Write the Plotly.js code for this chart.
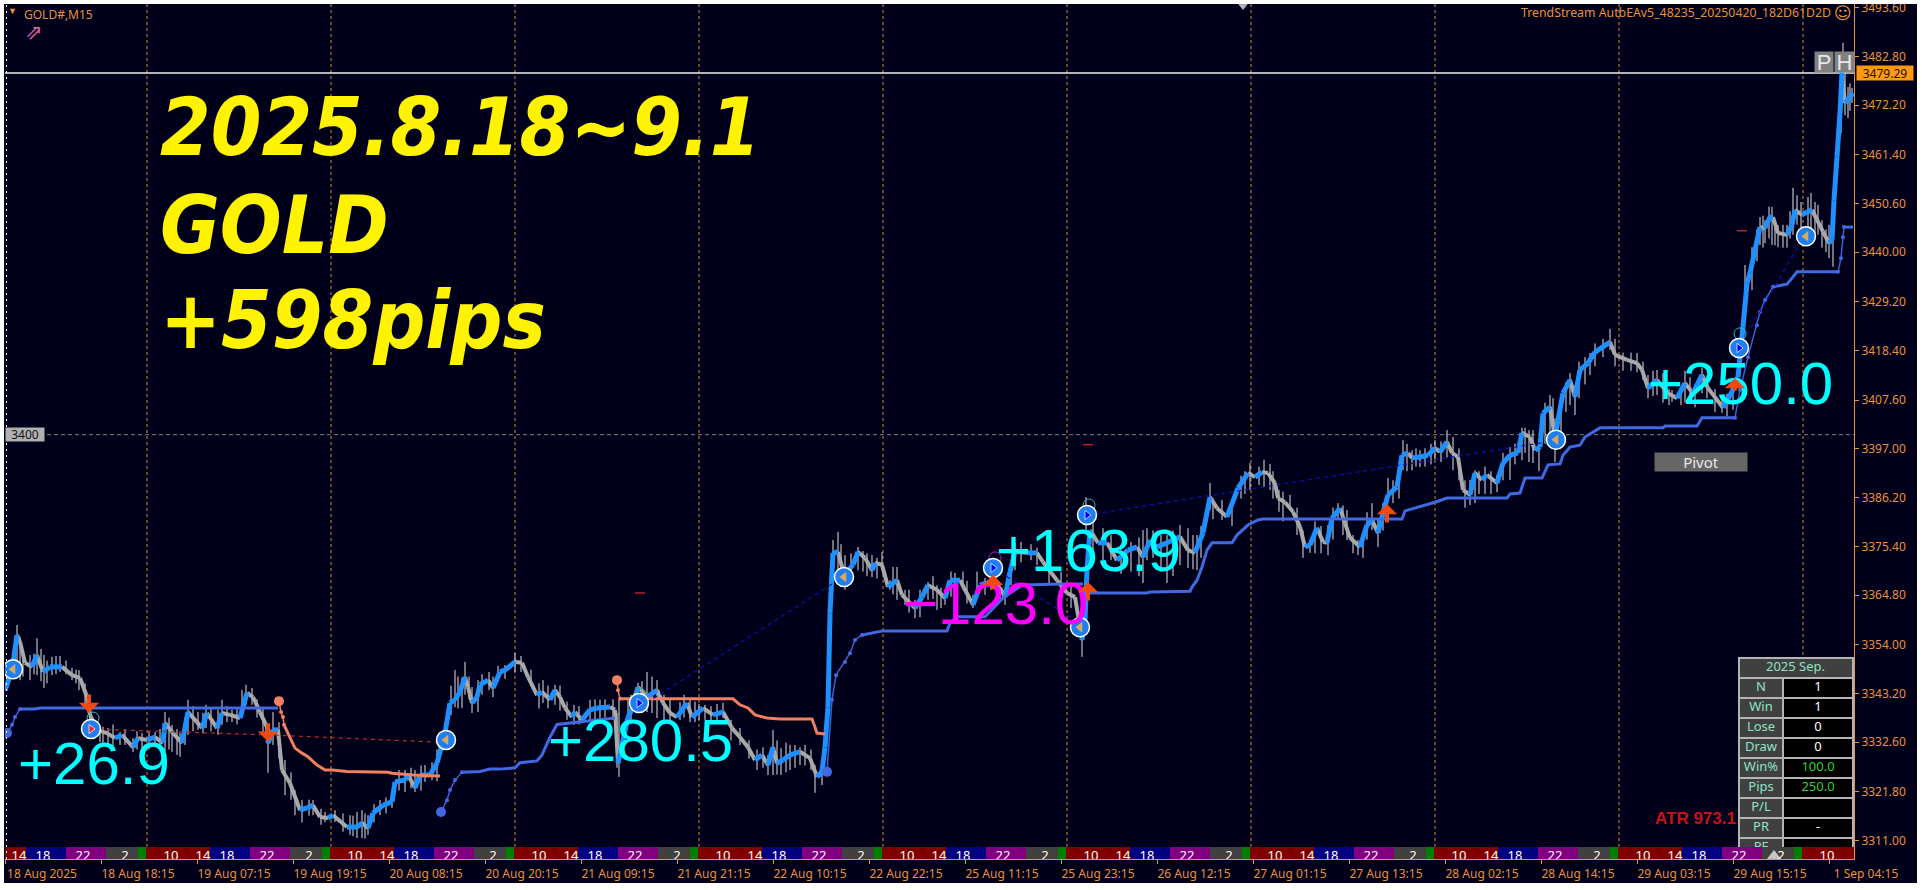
<!DOCTYPE html>
<html><head><meta charset="utf-8">
<script src="https://cdn.plot.ly/plotly-3.0.1.min.js"></script>
<style>html,body{margin:0;padding:0;background:#fff;overflow:hidden}#c{position:absolute;left:4px;top:4px;width:1913px;height:879px}</style>
</head><body><div id="c"></div>
<script>
// ---------- price path (bar number, close) ----------
const priceBar=[0,3.5,6,7.5,10,13.5,16,19,22.5,28.5,33.5,37.5,41,42.5,46,51,55,58.5,64,66.5,71,75,79,80,84,88.5,91.5,96,98.5,101,106,108.5,112.5,117.5,121,124,127.5,131,131.5,134,136.5,138.5,142.5,147.5,151,154,157.5,161.5,164,171,176,178.5,181.5,184,189,193.5,195,200,201.5,205,207.5,212.5,216,220,222.5,225,227.5,230,231.5,233.5,236,237.5,241.5,244,247.5,250,255,258.5,261.5,266,268.5,272.5,275,277.5,280,283.5,285,288.5,292.5,296,302.5,305,306.5,311.5,314,316.5,321,326,329,332.5,336,341,343.5,349,354,359,363.5,367.5,371.5,375,378.5,381.5,384,386,389,392.5,397.5,402.5,406,408.5,410,411.5,412.5,414,416.5,418.5,421,424,426.5,430,433.5,435,438.5,441.5,446,448.5,455,458.5,461.5,466,470,472.5,477.5,484,487.5,492.5,497.5,500,502.5,505,511,516,519,526,531,535,537.5,538.5,540,541,542.5,546.5,551,556,561.5,566,569,572.5,576,581,587.5,591.5,595,599,602.5,606,611,616.5,621.5,625,628.5,631.5,635,636.5,640,644,647.5,650,652.5,656,659,661,663.5,667.5,670,672.5,677.5,681,683.5,686.5,689,691.5,696,698.5,701.5,703.5,707.5,711.5,715,717.5,721,723.5,726.5,729,732.5,735,738.5,741,746,749,752.5,756.5,758.5,762.5,765,767.5,769,772.5,775,776.5,779,782.5,785,787.5,791.5,795,802.5,805,811,816,818.5,821.5,826,831.5,836,840,844,848.5,851.5,859,863.5,866.5,869,871,872.5,875,877.5,880,882.5,884,886.5,891,893.5,895,898.5,901,903.5,906,909,912,913.5,914.5,916,917.5,918.5,920,922.5,924];
const priceClose=[3344,3348.4,3356.1,3354.6,3350,3349.1,3351.7,3348,3349.1,3349.1,3347.3,3346.7,3342.5,3338.6,3335.3,3334.6,3333.5,3334.2,3331.5,3333.5,3333.1,3333.7,3332.4,3336.8,3334.6,3332.4,3339.2,3337,3335.7,3339,3335.7,3339,3338.6,3337.9,3343.4,3342.5,3339.2,3335.9,3332.4,3335.3,3335.3,3326.5,3323.6,3317.7,3318.2,3318.8,3316.2,3316,3316.6,3314,3314,3314.9,3313.8,3317.1,3318.8,3319.5,3323.9,3324.3,3325.4,3322.6,3325.4,3325.4,3328,3334.6,3341.2,3341.9,3343.6,3346.9,3344.7,3341.2,3342.5,3345.2,3346.2,3344.5,3348,3348.4,3350.2,3350,3346.9,3342.9,3343.6,3341.9,3344,3342.5,3340.1,3338.1,3339.2,3337.5,3339.7,3340.1,3340.3,3339.7,3328,3338.1,3340.3,3344.7,3342.5,3344,3341.2,3339,3338.1,3341.2,3338.1,3340.1,3338.6,3339.2,3335.7,3333.7,3331.5,3328.7,3329.8,3327.6,3331.5,3328,3328.7,3329.8,3330.5,3329.1,3325,3326.1,3331.5,3340.3,3360.9,3374.1,3374.3,3371,3369.9,3371.5,3374.3,3373,3370.3,3371.9,3371.5,3366.6,3368.1,3364.9,3362,3364.4,3367,3366,3364.2,3368.1,3368.1,3362.7,3367,3367.7,3366.4,3364.4,3369.9,3374.3,3374.1,3374.1,3372.1,3368.1,3365.3,3364.4,3357.8,3355,3359.4,3370.3,3379.1,3376.3,3376.3,3372.5,3374.7,3375.4,3373.2,3376.9,3375.4,3376.3,3377.6,3374.7,3374.1,3378.5,3386.3,3383.9,3382,3388.3,3391.6,3390.7,3391.8,3391.6,3389.4,3386.1,3385.2,3383.1,3379.8,3375.4,3375.8,3379.6,3376.5,3376.3,3381.7,3383.9,3380.6,3377.4,3375.4,3380.2,3381.3,3378.5,3382.8,3386.8,3388.5,3395.5,3396,3394.9,3395.1,3395.5,3397.1,3396.2,3398.4,3396,3395.1,3387.9,3386.8,3391.6,3390.1,3391.2,3389.4,3393.8,3395.5,3396,3400.4,3399.5,3396.6,3397.3,3404.7,3406.1,3399.3,3403.2,3409.1,3412,3408.3,3414.2,3415.7,3418.1,3420.3,3417.5,3416.4,3415.7,3414.2,3410.2,3412,3409.1,3408,3411.3,3409.1,3413.1,3410.2,3405.9,3409.4,3412.6,3423.6,3433.2,3435.4,3440.5,3445.5,3445.3,3447.7,3447.7,3444.2,3443.8,3446,3449.3,3448.2,3448.8,3449.3,3447.1,3444.5,3442,3442.7,3451.4,3460.9,3470.5,3479.3,3472.7,3474,3474.9];
// ---------- wicks (bar number, high, low) ----------
const wickBar=[6,7.5,12.5,16,19.5,23.5,27.5,33.5,37,42.5,47.5,51.5,57.5,64,68.5,75,80,83.5,87.5,91.5,96.5,100.5,106.5,108.5,113.5,120.5,123.5,131.5,134,140,145,148.5,154,160,165,172.5,176,178.5,181.5,187.5,193.5,200,205,210,213.5,225,228.5,230,233.5,236.5,242,246.5,255,269,275,284.5,292.5,297.5,307,311.5,316.5,321,326,329.5,337.5,342.5,350,359,367.5,381.5,384,388,392.5,397.5,405,408.5,414,416.5,420,426.5,433.5,438.5,442.5,446,450,455,461.5,466,470,475,484,490,497.5,500,505,516,538.5,540.5,549,569,571,581,587.5,591.5,596,602.5,608.5,622.5,632.5,637,642.5,652.5,661.5,666.5,671,676.5,683.5,686.5,691.5,699,703.5,707.5,715,724,732.5,735,746,752.5,758.5,764,772.5,775,782.5,785,792.5,802.5,816,821.5,826,833.5,842.5,848.5,858.5,870,873.5,877.5,880,883.5,886.5,894,896,901.5,906.5,912,914,919,921.5,923.5];
const wickHigh=[3358.3,3355.7,3351.7,3355.4,3351.7,3351.3,3351.5,3348.9,3348.4,3343,3335.7,3335.7,3334.8,3333.5,3334.6,3334.8,3339.2,3336.4,3334.6,3341.9,3339.2,3340.8,3339.7,3341.9,3339.7,3345.2,3344.5,3336.4,3339.2,3328.7,3322.1,3319.9,3319.9,3317.3,3317.7,3316.6,3317.3,3317.7,3316.6,3319.9,3321,3326.5,3326.5,3327.6,3328.2,3348.4,3346.7,3350.2,3344.7,3346.2,3348,3349.3,3352.1,3346.2,3345.2,3340.8,3341.9,3341.9,3341.9,3342.3,3345.6,3348,3346.2,3343,3341.4,3341.9,3340.8,3341.2,3335.7,3329.8,3335.3,3331.3,3332,3331.5,3327.6,3327.2,3376.9,3378.7,3373.6,3375.4,3373.6,3374.3,3368.1,3371,3366,3363.8,3367.7,3367,3366,3369.7,3364.9,3368.6,3367,3366,3376.3,3375.2,3363.8,3386.3,3379.5,3379.1,3379.5,3378,3380.2,3379.5,3378,3389.4,3385.7,3393.8,3393.6,3387.9,3386.8,3376.9,3380.2,3385,3383.5,3376.9,3385,3381.3,3390.5,3398.8,3396.6,3396.6,3398.8,3399.5,3390.1,3392.2,3391.2,3397.3,3401.5,3401,3408.7,3403.6,3413.5,3410.9,3417.9,3423.2,3417.9,3413.1,3414.2,3409.8,3412.6,3414.6,3407.6,3437.2,3441.1,3447.7,3447,3449.9,3446,3454.1,3452.5,3452.1,3450.4,3446,3442.7,3485.9,3476.2,3476];
const wickLow=[3348,3346.2,3346.2,3347.3,3344.5,3347.3,3348,3346.2,3344,3336.4,3332.6,3332,3332,3330.5,3331.3,3332,3330.5,3330.5,3329.4,3334.2,3335.3,3335.7,3334.2,3336.4,3337,3340.8,3340.8,3325.9,3332,3321,3316.6,3315,3316.6,3315.1,3315.1,3312.3,3311.6,3311.6,3312.3,3316.6,3318.2,3321.7,3321.7,3323.9,3324.3,3340.3,3340.1,3343,3339,3339.2,3344,3345.8,3348,3341.2,3340.8,3336.4,3337,3337.9,3325,3337.9,3339,3339.2,3337.9,3337,3337.5,3337,3337.5,3337.9,3332,3325.4,3325.4,3325.4,3326.5,3327.6,3321.5,3323.2,3369.3,3368.1,3366,3370.3,3368.8,3370.3,3366,3363.8,3362.7,3359.8,3363.8,3361.6,3362.7,3364.9,3362,3364.9,3363.8,3362.7,3370.3,3371.4,3351.3,3379.1,3372.5,3367.5,3372.5,3367.5,3371.4,3370.8,3370.3,3383.5,3381.3,3387.9,3387.9,3383.1,3383.5,3374.1,3373.6,3381.3,3376.9,3373.6,3379.1,3375.4,3385.7,3392.2,3392.2,3392.9,3394.4,3392.2,3384.6,3385,3387.4,3390.1,3394.4,3393.8,3398.8,3394,3406.5,3404.3,3413.1,3418.6,3413.7,3408,3408.7,3407.2,3407.6,3409.1,3404.8,3429.5,3431.7,3441.6,3442,3441.6,3441.1,3443.8,3446,3444.9,3443.8,3438.7,3436.8,3478.9,3469.4,3472.7];
const moreWickBar=[9,14.5,18,21,25.5,30.5,35.5,40,49,54,60,66,72,77.5,82,86,90,94,99,103,111,116,118.5,126,129,137,143,152,158,169,174,180,184.5,190.5,197,203,208,216,223,226.5,232,238.5,244,250,258,263,267,271.5,277.5,281,287,295,300,304,306,313,318.5,323.5,332.5,339.5,345,347,353,356,363,372,376,379,386,390.5,395,400,403,418,423,429,431,436,444,452,457.5,464,468,473,479,481,486,493,503,508,513,522,528,533,544,553,558,563,567,574,578,584,594,598,604,613.5,618,620,627,629.5,634,639,646,649,655,658,664,669,674,679,681,689,694,697,701,705.5,710,713,718,721,727,730,737,740,743,749,755,760,762,767,770,774,778,780.5,787,790,795,799,805,809,813,819,824,829,832,838,840,845,851,855,861,864,876,879,882,885,889,891,892.5,898,903,905,908.5,910.5,918,920,922.5];
const moreWickHigh=[3352.5,3352,3353,3350.5,3351.5,3350.5,3348.5,3345.5,3336,3336.5,3335.5,3335,3335,3335.5,3338,3335.5,3338,3340.5,3339,3340,3340.5,3340,3344,3342,3340,3337,3326,3320,3318,3317,3316.5,3317,3319,3320.5,3326.5,3327,3327.5,3331,3345,3347,3347,3347.5,3347,3349.5,3351.5,3348.5,3345.5,3345,3345,3341.5,3340.5,3342,3342,3342,3339,3343,3346,3347,3342,3343,3341.5,3341,3340.5,3341,3337.5,3333,3331,3331.5,3333,3332.5,3332,3332,3331,3376,3374,3374.5,3374,3373,3371,3366,3366,3369,3366.5,3370,3370,3368,3370,3369.5,3372,3376.5,3376,3373,3370,3367,3381,3378,3375,3376.5,3377.5,3379,3378,3379,3378,3380,3386,3385,3391,3392,3393,3394.5,3392,3387.5,3384,3379,3381,3380,3384,3384.5,3378,3378,3383,3385,3390,3392,3398,3397,3397,3398,3398.5,3401,3397,3390,3392,3393,3392,3396,3398,3401.5,3401,3399,3407,3408,3405,3411.5,3416,3417,3420,3421,3421,3418,3418,3416,3414,3413.5,3410,3410.5,3414,3411,3413,3410,3409,3411,3445,3448,3450,3447,3446,3446,3449,3451,3453,3451,3447,3445,3474,3480,3477];
const moreWickLow=[3347,3347.5,3346,3345.5,3347.5,3347.5,3345.5,3340.5,3332.5,3331.5,3332,3331,3331,3331,3331,3329.8,3332,3335,3334.5,3335,3337,3336.5,3338,3338,3334,3329,3320,3316.5,3314.5,3313,3312,3311.5,3315,3317,3322,3322.5,3322,3324,3338.5,3340,3342,3343,3342.5,3346.5,3348,3345,3340,3340,3339.5,3337.5,3336.5,3337.5,3338,3337.5,3327,3337.5,3339.5,3339,3337,3338,3337,3337.5,3337,3337.5,3333,3329,3326.5,3327,3325.5,3326,3327,3327.5,3326.5,3367.5,3368,3370,3369,3368.5,3365,3361,3360,3364,3362,3364.5,3366,3363,3364,3366,3367,3372,3372.5,3367,3364,3362,3374,3372.5,3369.5,3370,3369,3373,3370,3369,3370.5,3373,3381.5,3380,3386,3387,3389,3388.5,3386,3381,3378,3373,3374,3374,3377,3378,3374,3373,3377,3379,3385,3386,3392,3393,3393,3393.5,3394,3395,3390,3384,3387,3387,3387,3390,3393.5,3396,3394,3392,3398,3400,3398,3405,3408,3411,3415,3417,3415,3414,3414,3412,3408.5,3407,3406.5,3406.5,3407,3406,3408,3405,3404,3405.5,3438,3441,3443,3441.5,3441,3441,3443,3445,3445,3444,3441,3440,3466,3470,3471];
// ---------- trailing stop lines (flat thick, steep thin dotted) ----------
const bandBlueBar=[7.5,15,17.5,136.5,null,228.5,237.5,242.5,247.5,255,257.5,266,268.5,272.5,276,305,null,428.5,434,439,471,472.5,476,490,499,502.5,509,514,527.5,539,null,541.5,571,572.5,592.5,593.5,596,598.5,601,603.5,613.5,616,621.5,626.5,629,698.5,700,715,721,751,752.5,757.5,760,768.5,771.5,777.5,779,782.5,787.5,790,797.5,829,830,846,848.5,865,null,884,891,894,896,916.5,null,919.5,924];
const bandBlueVal=[3339.9,3339.9,3340.1,3340.1,null,3326,3326.2,3326.7,3326.7,3327,3328.1,3328.5,3329.8,3333.7,3336.5,3337.9,null,3356.1,3356.5,3357,3357,3358.7,3360.1,3360.1,3364.2,3365.3,3367.1,3367.1,3367.3,3367.3,null,3365.3,3365.3,3365.5,3365.7,3366.6,3368.1,3371,3374.7,3376.3,3376.3,3378,3380.2,3381.3,3381.5,3381.5,3383.3,3385.2,3386.1,3386.1,3387,3387.2,3390.5,3390.5,3393.4,3393.6,3395.5,3397.3,3397.7,3399.5,3401.5,3401.5,3401.9,3401.9,3403.7,3403.7,null,3432.4,3433,3434.6,3435.7,3435.7,null,3445.5,3445.5];
const bandSteepBar=[1,3.5,5,7.5,null,218,221,222.5,225,228.5,null,411,413.5,415.5,420,422.5,425,428.5,null,865,867.5,871.5,876,877.5,880,884,null,916.5,918,919,919.5];
const bandSteepVal=[3334.6,3336.4,3338.1,3339.9,null,3317.3,3319.9,3322.1,3324.3,3326,null,3326.1,3341.9,3347.3,3350.2,3352.1,3355,3356.1,null,3403.7,3409.8,3417,3424,3426.9,3429.5,3432.4,null,3435.7,3438.7,3443.3,3445.5];
const bandSellBar=[139.5,142.5,145,148.5,151.5,156,160,163.5,171,191.5,193.5,204,217.5,null,307.5,364,367.5,371.5,375,381,387.5,403.5,405,406,410];
const bandSellVal=[3336.4,3333.7,3331.3,3330.2,3329.4,3327.6,3326.5,3326.5,3326.2,3326,3325.8,3325.4,3325.2,null,3342.1,3342.1,3340.8,3340.1,3338.6,3337.9,3337.7,3337.7,3335.9,3334.6,3334.4];
const sellStartBar=[137,138,139,139.5,null,306,306.5,307.5];
const sellStartVal=[3341.6,3339.2,3338.1,3336.4,null,3346.2,3344,3342.1];
// ---------- trades ----------
const sellLegBar=[43,131,217.5];
const sellLegVal=[3335.5,3334.2,3332.6];
const buyLegBar=[317.5,419,null,494,540,null,541,771,null,867,897.5];
const buyLegVal=[3340.3,3368.8,null,3370.8,3357.9,null,3382.4,3398.4,null,3419,3442];
const entryBar=[43,317,494,541,867];
const entryVal=[3335.5,3341.2,3370.8,3382.4,3419];
const entryMark=['#ff2020','#0000ff','#0000ff','#0000ff','#0000ff'];
const exitBar=[4,220.5,419.5,537.5,775.5,900.5];
const exitVal=[3348.6,3333.1,3368.8,3357.8,3398.9,3443.5];
const ringBar=[44,317.5,495,542,867.5];
const ringVal=[3337.9,3343.1,3373,3384.6,3422.1];
const ringCol=['#3fc0c0','#30b0a0','#b020b0','#30b0b0','#30c0d0'];
const downArrowBar=[42,131.5];
const downArrowVal=[3339,3332.7];
const downArrowLen=[-20,-20];
const upArrowBar=[691,541.5,494,865];
const upArrowVal=[3384.8,3367.7,3369.3,3412.4];
const upArrowLen=[20,20,16,14];
const tickMarkBar=[317.5,541.5,868.5];
const tickMarkVal=[3365.3,3397.8,3444.7];
const dotBar=[137,1,218,306,411];
const dotVal=[3341.6,3334.6,3317.3,3346.2,3326.1];
const dotCol=['#f08060','#4169e1','#4169e1','#f08060','#4169e1'];
// ---------- axes ----------
const xTickLabels=['18 Aug 2025','18 Aug 18:15','19 Aug 07:15','19 Aug 19:15','20 Aug 08:15','20 Aug 20:15','21 Aug 09:15','21 Aug 21:15','22 Aug 10:15','22 Aug 22:15','25 Aug 11:15','25 Aug 23:15','26 Aug 12:15','27 Aug 01:15','27 Aug 13:15','28 Aug 02:15','28 Aug 14:15','29 Aug 03:15','29 Aug 15:15','1 Sep 04:15'];
const xTickBars=[0,48,96,144,192,240,288,336,384,432,480,528,576,624,672,720,768,816,864,912];
const yTicks=[3311,3321.8,3332.6,3343.2,3354,3364.8,3375.4,3386.2,3397,3407.6,3418.4,3429.2,3440,3450.6,3461.4,3472.2,3482.8,3493.6];
const dayLineBars=[71,163,255,347,439,531,623,715,807,899];
// ---------- session strip ----------
const sessionColors=['#800000','#000080','#800080','#404040','#008000'];
const sessionBars=[32,20,20,16,4];
const sessionTexts=[['10','14'],['18'],['22'],['2'],[]];
// ---------- stats table ----------
const tableTitle='2025 Sep.';
const tableLabels=['N','Win','Lose','Draw','Win%','Pips','P/L','PR','PF'];
const tableValues=['1','1','0','0','100.0','250.0','','-',''];
const tableValueCols=['#fff','#fff','#fff','#fff','#30d030','#30d030','#fff','#fff','#fff'];
// ---------- result labels ----------
const resultTexts=['+26.9','+280.5','−123.0','+163.9','+250.0'];
const resultCols=['#00ffff','#00ffff','#ff00ff','#00ffff','#00ffff'];
const resultPx=[[17,729],[547,706],[902,569],[995,516],[1647,349]];
const currentPrice=3479.29, pivotLevel=3400;

// page pixel -> axis unit (for chart furniture only)
const BX=px=>(px-5)/2, PY=py=>3494.4-(py-4)/4.5625;
const ORANGE='#e8913c';
const fontUI='"Noto Sans",sans-serif';

// split path into up / down runs
const upX=[],upY=[],dnX=[],dnY=[];
for(let i=1;i<priceBar.length;i++){
  const up=priceClose[i]>=priceClose[i-1];
  (up?upX:dnX).push(priceBar[i-1],priceBar[i],null);
  (up?upY:dnY).push(priceClose[i-1],priceClose[i],null);
}
const wX=[],wY=[];
wickBar.forEach((b,i)=>{wX.push(b,b,null);wY.push(wickHigh[i],wickLow[i],null)});
moreWickBar.forEach((b,i)=>{wX.push(b,b,null);wY.push(moreWickHigh[i],moreWickLow[i],null)});

// session strip
const stripY=PY(853), stripTextY=PY(857);
const stripX=sessionColors.map(()=>[]), stripV=sessionColors.map(()=>[]);
const stX=[],stT=[];
let pos=70.5-92;
while(pos<924.5){
  let p=pos;
  sessionColors.forEach((c,k)=>{
    const a=Math.max(p,0),b=Math.min(p+sessionBars[k],924.5);
    if(b>a){stripX[k].push(a,b,null);stripV[k].push(stripY,stripY,null);}
    sessionTexts[k].forEach((t,j)=>{const tx=p+(k==0?12.5+16*j:8.5+(k==3?1:0));if(tx>=0&&tx<924){stX.push(tx);stT.push(t);}});
    p+=sessionBars[k];
  });
  pos+=92;
}

// table text
const tblX=[BX(1795.5)],tblY=[PY(668)],tblT=[tableTitle],tblC=['#8fe3c4'];
tableLabels.forEach((t,i)=>{const y=PY(688+20*i);tblX.push(BX(1761));tblY.push(y);tblT.push(t);tblC.push('#8fe3c4');
  tblX.push(BX(1818));tblY.push(y);tblT.push(tableValues[i]);tblC.push(tableValueCols[i]);});

const line=(x,y,color,width,dash,name)=>({type:'scatter',mode:'lines',x,y,hoverinfo:'skip',showlegend:false,line:{color,width,dash:dash||'solid',shape:'linear'},name});
const traces=[
  line(wX,wY,'#e4e4e4',1),
  line(dnX,dnY,'#a9a9a9',4),
  line(upX,upY,'#1e90ff',5),
  line(bandBlueBar,bandBlueVal,'#4169e1',3),
  {type:'scatter',mode:'lines+markers',x:bandSteepBar,y:bandSteepVal,hoverinfo:'skip',line:{color:'#3f5fd0',width:1.5},marker:{color:'#4169e1',size:4}},
  line(bandSellBar,bandSellVal,'#f08060',3),
  {type:'scatter',mode:'lines+markers',x:sellStartBar,y:sellStartVal,hoverinfo:'skip',line:{color:'#f08060',width:1.5},marker:{color:'#f08060',size:4}},
  line(sellLegBar,sellLegVal,'#c02828',1.2,'4px,4px'),
  line(buyLegBar,buyLegVal,'#0a10b8',1.2,'4px,4px'),
  {type:'scatter',mode:'markers',x:dotBar,y:dotVal,hoverinfo:'skip',marker:{color:dotCol,size:10}},
  {type:'scatter',mode:'markers',x:ringBar,y:ringVal,hoverinfo:'skip',marker:{symbol:'circle-open',color:ringCol,size:12,line:{width:1}}},
  {type:'scatter',mode:'markers',x:entryBar.concat(exitBar),y:entryVal.concat(exitVal),hoverinfo:'skip',marker:{color:'#1f7ff0',size:19,line:{color:'#fff',width:1.5}}},
  {type:'scatter',mode:'markers',x:entryBar,y:entryVal,hoverinfo:'skip',marker:{symbol:'triangle-right',color:entryMark,size:8,line:{color:'#fff',width:0.7}}},
  {type:'scatter',mode:'markers',x:exitBar,y:exitVal,hoverinfo:'skip',marker:{symbol:'triangle-left',color:'#d8aa60',size:9}},
  {type:'scatter',mode:'markers',x:tickMarkBar,y:tickMarkVal,hoverinfo:'skip',marker:{symbol:'line-ew',size:7,line:{color:'#c02020',width:1.5}}},
  {type:'scatter',mode:'text',x:tblX,y:tblY,text:tblT,hoverinfo:'skip',textposition:'middle center',textfont:{family:fontUI,size:13,color:tblC}}
];
sessionColors.forEach((c,k)=>traces.push(line(stripX[k],stripV[k],c,12)));
traces.push({type:'scatter',mode:'text',x:stX,y:stX.map(()=>stripTextY),text:stT,hoverinfo:'skip',textposition:'middle center',textfont:{family:fontUI,size:13,color:'#fff'}});
traces.push({type:'scatter',mode:'markers',x:[BX(1774),BX(1243)],y:[PY(856),PY(6)],cliponaxis:false,hoverinfo:'skip',marker:{symbol:['triangle-up','triangle-down'],color:'#fff',size:[11,7]}});

// shapes
const shapes=[];
dayLineBars.forEach(b=>shapes.push({type:'line',layer:'below',xref:'x',yref:'paper',x0:b,x1:b,y0:0,y1:1,line:{color:'#d8883a',width:1,dash:'3px,3px'}}));
shapes.push({type:'line',layer:'below',xref:'paper',yref:'y',x0:0,x1:1,y0:pivotLevel,y1:pivotLevel,line:{color:'#808078',width:1,dash:'4px,3px'}});
shapes.push({type:'line',layer:'below',xref:'paper',yref:'y',x0:0,x1:1,y0:currentPrice,y1:currentPrice,line:{color:'#f0f0f0',width:1.5}});
shapes.push({type:'line',layer:'above',xref:'paper',yref:'paper',x0:0.0008,x1:0.0008,y0:0,y1:1,line:{color:'#ffffff',width:1,dash:'2px,4px'}});
const rect=(x0,x1,y0,y1,c)=>shapes.push({type:'rect',layer:'below',xref:'x',yref:'y',x0:BX(x0),x1:BX(x1),y0:PY(y0),y1:PY(y1),fillcolor:c,line:{width:0}});
rect(1738,1854,657,848,'#b4b4b4');
rect(1740,1852,659,677,'#404040');
for(let i=0;i<9;i++){rect(1740,1782,679+20*i,Math.min(697+20*i,848),'#404040');rect(1784,1852,679+20*i,Math.min(697+20*i,848),'#000');}

// annotations
const ann=[];
const txt=(px,py,text,font,opt)=>ann.push(Object.assign({xref:'x',yref:'y',x:BX(px),y:PY(py),text,showarrow:false,xanchor:'left',yanchor:'top',font,borderpad:0},opt||{}));
const big={family:'"DejaVu Sans Condensed","DejaVu Sans",sans-serif',size:81,color:'#fff300',weight:'bold',style:'italic'};
txt(159,79,'2025.8.18~9.1',big);
txt(159,177,'GOLD',big);
txt(159,272,'+598pips',big);
resultTexts.forEach((t,i)=>txt(resultPx[i][0],resultPx[i][1],t,{family:'"Liberation Sans",Arial,sans-serif',size:60,color:resultCols[i]}));
txt(23,5,'GOLD#,M15',{family:fontUI,size:12,color:ORANGE});
txt(1832,12,'TrendStream AutbEAv5_48235_20250420_182D61D2D',{family:fontUI,size:12.3,color:ORANGE},{xanchor:'right',yanchor:'middle'});
txt(1843,13,'☺',{family:'"DejaVu Sans",sans-serif',size:17,color:ORANGE},{xanchor:'center',yanchor:'middle'});
ann.push({xref:'x',yref:'y',x:BX(12),y:PY(10),text:'▼',showarrow:false,font:{size:9,color:ORANGE},xanchor:'center',yanchor:'middle'});
ann.push({xref:'x',yref:'y',x:BX(34),y:PY(32),text:'⇗',showarrow:false,font:{family:'"DejaVu Sans",sans-serif',size:21,color:'#e060b0'},xanchor:'center',yanchor:'middle'});
const box=(x0,x1,y0,y1,text,col,bg,size,family)=>ann.push({xref:'x',yref:'y',x:BX((x0+x1)/2),y:PY((y0+y1)/2),xanchor:'center',yanchor:'middle',width:x1-x0,height:y1-y0,text,showarrow:false,bgcolor:bg,borderpad:0,font:{family:family||fontUI,size,color:col}});
box(1815,1833,52,72,'P','#e8e8e8','#808080',22,'"Liberation Sans",sans-serif');
box(1835,1854,52,72,'H','#e8e8e8','#808080',22,'"Liberation Sans",sans-serif');
box(1655,1747,453,471,'Pivot','#e8e8e8','#666666',15);
box(6,44,428,441,'3400','#111','#b0b0b0',12);
ann.push({xref:'paper',yref:'y',x:(1856-5)/1849,xanchor:'left',y:currentPrice,yanchor:'middle',width:56,height:14,text:String(currentPrice),showarrow:false,bgcolor:'#ff9912',borderpad:0,font:{family:fontUI,size:12,color:'#201000'}});
txt(1654,808,'ATR 973.1',{family:'"Liberation Sans",sans-serif',size:17,weight:'bold',color:'#c81018'});
const arrow=(b,v,dy)=>ann.push({xref:'x',yref:'y',x:b,y:v,text:'',showarrow:true,ax:0,ay:dy,arrowcolor:'#f04a12',arrowwidth:4,arrowhead:1,arrowsize:0.85,standoff:0});
downArrowBar.forEach((b,i)=>arrow(b,downArrowVal[i],downArrowLen[i]));
upArrowBar.forEach((b,i)=>arrow(b,upArrowVal[i],upArrowLen[i]));

const layout={
  width:1913,height:879,paper_bgcolor:'#00001a',plot_bgcolor:'#00001a',showlegend:false,
  margin:{l:1,r:63,t:0,b:24,pad:0},
  xaxis:{range:[0,924.5],tickmode:'array',tickvals:xTickBars,ticktext:xTickLabels,ticklabelshift:37,tickangle:0,ticklabeloverflow:'allow',showgrid:false,zeroline:false,
    showline:true,linecolor:ORANGE,linewidth:1,ticks:'outside',ticklen:4,tickcolor:ORANGE,tickfont:{family:fontUI,size:12,color:ORANGE}},
  yaxis:{range:[3307,3494.4],side:'right',tickmode:'array',tickvals:yTicks,ticktext:yTicks.map(v=>v.toFixed(2)),ticklabeloverflow:'allow',showgrid:false,zeroline:false,
    showline:true,linecolor:ORANGE,linewidth:1,ticks:'outside',ticklen:4,tickcolor:ORANGE,tickfont:{family:fontUI,size:12,color:ORANGE}},
  shapes,annotations:ann
};
Plotly.newPlot('c',traces,layout,{displayModeBar:false,staticPlot:true});
</script></body></html>
